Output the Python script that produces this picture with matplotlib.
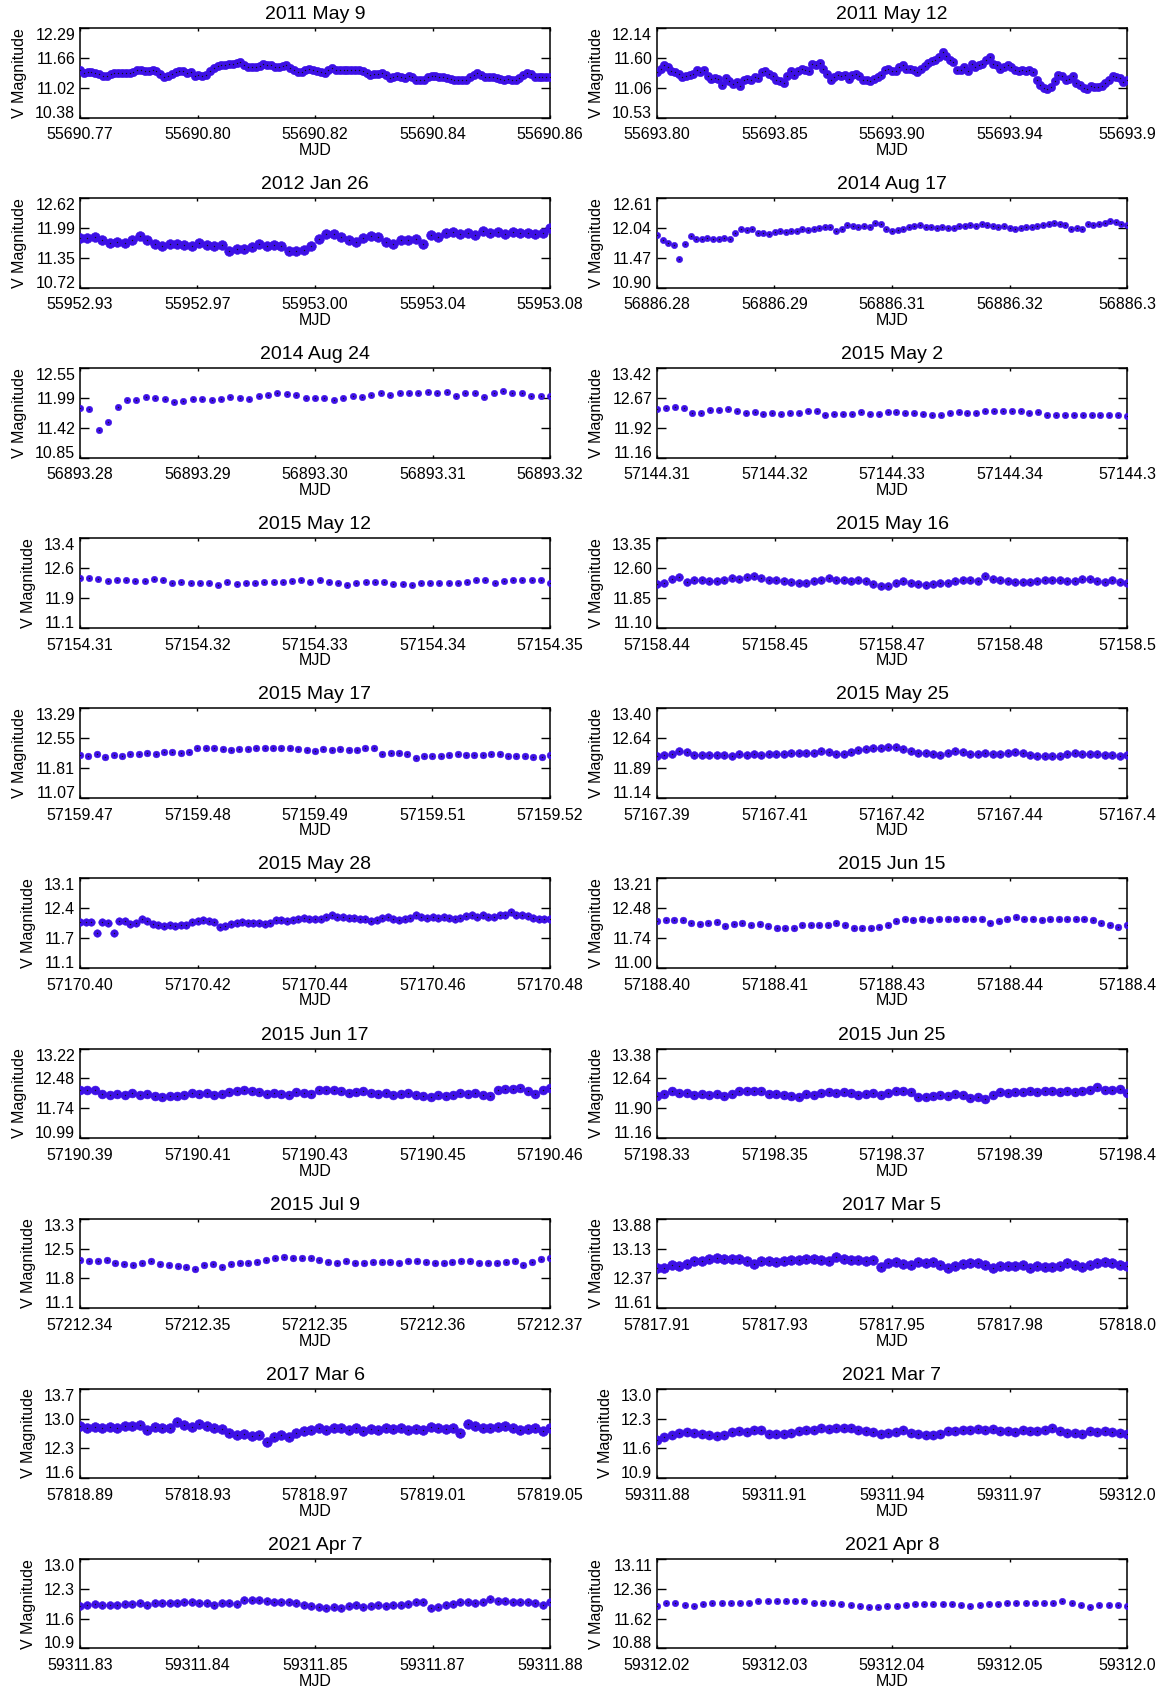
import numpy as np
import matplotlib
matplotlib.use("Agg")
import matplotlib.pyplot as plt

plt.rcParams['font.family'] = ['Liberation Sans', 'DejaVu Sans']

titles = ["2011 May 9", "2011 May 12", "2012 Jan 26", "2014 Aug 17", "2014 Aug 24",
          "2015 May 2", "2015 May 12", "2015 May 16", "2015 May 17", "2015 May 25",
          "2015 May 28", "2015 Jun 15", "2015 Jun 17", "2015 Jun 25", "2015 Jul 9",
          "2017 Mar 5", "2017 Mar 6", "2021 Mar 7", "2021 Apr 7", "2021 Apr 8"]

x_limits = [(55690.7735, 55690.8635), (55693.804, 55693.9888), (55952.929, 55953.079),
            (56886.2815, 56886.3315), (56893.279, 56893.3202), (57144.3095, 57144.3515),
            (57154.3095, 57154.3507), (57158.441, 57158.4952), (57159.468, 57159.518),
            (57167.393, 57167.455), (57170.4005, 57170.4801), (57188.401, 57188.451),
            (57190.393, 57190.463), (57198.332, 57198.408), (57212.3415, 57212.3671),
            (57817.908, 57817.9992), (57818.891, 57819.0502), (59311.8815, 59312.0003),
            (59311.831, 59311.877), (59312.0195, 59312.0603)]

x_tick_labels = [
    ["55690.77", "55690.80", "55690.82", "55690.84", "55690.86"],
    ["55693.80", "55693.85", "55693.90", "55693.94", "55693.9"],
    ["55952.93", "55952.97", "55953.00", "55953.04", "55953.08"],
    ["56886.28", "56886.29", "56886.31", "56886.32", "56886.3"],
    ["56893.28", "56893.29", "56893.30", "56893.31", "56893.32"],
    ["57144.31", "57144.32", "57144.33", "57144.34", "57144.3"],
    ["57154.31", "57154.32", "57154.33", "57154.34", "57154.35"],
    ["57158.44", "57158.45", "57158.47", "57158.48", "57158.5"],
    ["57159.47", "57159.48", "57159.49", "57159.51", "57159.52"],
    ["57167.39", "57167.41", "57167.42", "57167.44", "57167.4"],
    ["57170.40", "57170.42", "57170.44", "57170.46", "57170.48"],
    ["57188.40", "57188.41", "57188.43", "57188.44", "57188.4"],
    ["57190.39", "57190.41", "57190.43", "57190.45", "57190.46"],
    ["57198.33", "57198.35", "57198.37", "57198.39", "57198.4"],
    ["57212.34", "57212.35", "57212.35", "57212.36", "57212.37"],
    ["57817.91", "57817.93", "57817.95", "57817.98", "57818.0"],
    ["57818.89", "57818.93", "57818.97", "57819.01", "57819.05"],
    ["59311.88", "59311.91", "59311.94", "59311.97", "59312.0"],
    ["59311.83", "59311.84", "59311.85", "59311.87", "59311.88"],
    ["59312.02", "59312.03", "59312.04", "59312.05", "59312.0"],
]

y_limits = [(10.38, 12.29), (10.53, 12.14), (10.72, 12.62), (10.90, 12.61), (10.85, 12.55),
            (11.16, 13.42), (11.10, 13.38), (11.10, 13.35), (11.07, 13.29), (11.14, 13.40),
            (11.07, 13.08), (11.00, 13.21), (10.99, 13.22), (11.16, 13.38), (11.08, 13.27),
            (11.61, 13.88), (11.62, 13.72), (10.92, 13.02), (10.92, 13.02), (10.88, 13.11)]

y_tick_labels = [
    ["10.38", "11.02", "11.66", "12.29"],
    ["10.53", "11.06", "11.60", "12.14"],
    ["10.72", "11.35", "11.99", "12.62"],
    ["10.90", "11.47", "12.04", "12.61"],
    ["10.85", "11.42", "11.99", "12.55"],
    ["11.16", "11.92", "12.67", "13.42"],
    ["11.1", "11.9", "12.6", "13.4"],
    ["11.10", "11.85", "12.60", "13.35"],
    ["11.07", "11.81", "12.55", "13.29"],
    ["11.14", "11.89", "12.64", "13.40"],
    ["11.1", "11.7", "12.4", "13.1"],
    ["11.00", "11.74", "12.48", "13.21"],
    ["10.99", "11.74", "12.48", "13.22"],
    ["11.16", "11.90", "12.64", "13.38"],
    ["11.1", "11.8", "12.5", "13.3"],
    ["11.61", "12.37", "13.13", "13.88"],
    ["11.6", "12.3", "13.0", "13.7"],
    ["10.9", "11.6", "12.3", "13.0"],
    ["10.9", "11.6", "12.3", "13.0"],
    ["10.88", "11.62", "12.36", "13.11"],
]

mag_2011_may09 = [11.40, 11.33, 11.35, 11.35, 11.33, 11.30, 11.27, 11.27, 11.30, 11.32,
                  11.34, 11.32, 11.32, 11.32, 11.35, 11.39, 11.39, 11.38, 11.37, 11.40,
                  11.37, 11.30, 11.25, 11.26, 11.30, 11.35, 11.37, 11.37, 11.33, 11.36,
                  11.27, 11.29, 11.26, 11.29, 11.37, 11.43, 11.47, 11.51, 11.50, 11.52,
                  11.53, 11.55, 11.56, 11.51, 11.45, 11.46, 11.46, 11.48, 11.52, 11.51,
                  11.50, 11.45, 11.45, 11.48, 11.50, 11.44, 11.40, 11.36, 11.36, 11.40,
                  11.41, 11.40, 11.37, 11.36, 11.34, 11.40, 11.43, 11.40, 11.40, 11.40,
                  11.40, 11.40, 11.40, 11.40, 11.38, 11.32, 11.29, 11.31, 11.31, 11.32,
                  11.29, 11.22, 11.25, 11.26, 11.25, 11.22, 11.26, 11.24, 11.19, 11.19,
                  11.18, 11.24, 11.26, 11.26, 11.25, 11.25, 11.22, 11.20, 11.18, 11.18,
                  11.18, 11.18, 11.24, 11.29, 11.32, 11.29, 11.25, 11.24, 11.24, 11.22,
                  11.21, 11.19, 11.20, 11.19, 11.18, 11.22, 11.29, 11.33, 11.31, 11.25,
                  11.24, 11.24, 11.24, 11.25]

mag_2011_may12 = [11.34, 11.41, 11.48, 11.44, 11.37, 11.34, 11.31, 11.26, 11.27, 11.29,
                  11.31, 11.38, 11.34, 11.38, 11.27, 11.22, 11.24, 11.22, 11.12, 11.24,
                  11.18, 11.14, 11.16, 11.10, 11.20, 11.22, 11.20, 11.26, 11.24, 11.34,
                  11.36, 11.32, 11.27, 11.20, 11.18, 11.15, 11.27, 11.37, 11.29, 11.36,
                  11.41, 11.38, 11.36, 11.49, 11.47, 11.51, 11.41, 11.31, 11.20, 11.26,
                  11.29, 11.27, 11.29, 11.22, 11.29, 11.31, 11.27, 11.20, 11.20, 11.18,
                  11.22, 11.26, 11.29, 11.38, 11.41, 11.37, 11.36, 11.44, 11.47, 11.41,
                  11.41, 11.38, 11.34, 11.41, 11.45, 11.51, 11.54, 11.57, 11.62, 11.71,
                  11.63, 11.56, 11.53, 11.38, 11.38, 11.43, 11.36, 11.50, 11.44, 11.47,
                  11.49, 11.57, 11.62, 11.50, 11.47, 11.41, 11.44, 11.47, 11.44, 11.38,
                  11.36, 11.38, 11.36, 11.38, 11.34, 11.20, 11.12, 11.06, 11.04, 11.08,
                  11.18, 11.29, 11.27, 11.20, 11.22, 11.27, 11.15, 11.12, 11.06, 11.04,
                  11.09, 11.08, 11.08, 11.09, 11.15, 11.20, 11.27, 11.26, 11.24, 11.16,
                  11.20]

mag_2012_jan26 = [11.77, 11.77, 11.79, 11.72, 11.66, 11.68, 11.66, 11.72, 11.81, 11.72,
                  11.65, 11.60, 11.64, 11.65, 11.62, 11.60, 11.66, 11.62, 11.60, 11.62,
                  11.50, 11.54, 11.55, 11.58, 11.64, 11.60, 11.62, 11.60, 11.50, 11.50,
                  11.52, 11.60, 11.75, 11.85, 11.85, 11.79, 11.72, 11.69, 11.77, 11.82,
                  11.79, 11.68, 11.64, 11.73, 11.72, 11.75, 11.64, 11.83, 11.79, 11.87,
                  11.91, 11.85, 11.87, 11.83, 11.92, 11.88, 11.91, 11.85, 11.91, 11.87,
                  11.88, 11.85, 11.88, 11.98]

mag_2014_aug17 = [11.90, 11.80, 11.75, 11.71, 11.45, 11.73, 11.88, 11.83, 11.83, 11.84,
                  11.83, 11.82, 11.84, 11.83, 11.95, 12.02, 12.00, 12.02, 11.95, 11.95,
                  11.93, 11.97, 11.98, 11.97, 11.99, 11.98, 12.02, 12.00, 12.02, 12.04,
                  12.05, 12.06, 11.99, 12.02, 12.09, 12.07, 12.05, 12.07, 12.05, 12.14,
                  12.11, 12.02, 11.98, 12.00, 12.02, 12.06, 12.07, 12.09, 12.06, 12.05,
                  12.04, 12.05, 12.04, 12.04, 12.07, 12.07, 12.09, 12.07, 12.11, 12.09,
                  12.07, 12.05, 12.07, 12.04, 12.02, 12.04, 12.05, 12.06, 12.07, 12.09,
                  12.11, 12.14, 12.12, 12.09, 12.02, 12.04, 12.02, 12.11, 12.09, 12.11,
                  12.14, 12.18, 12.16, 12.12, 12.09]

mag_2014_aug24 = [11.80, 11.78, 11.38, 11.52, 11.81, 11.95, 11.95, 12.00, 11.99, 11.96,
                  11.90, 11.93, 11.97, 11.97, 11.95, 11.97, 12.00, 11.99, 11.97, 12.02,
                  12.05, 12.07, 12.06, 12.04, 11.99, 11.99, 11.99, 11.95, 11.98, 12.03,
                  12.00, 12.04, 12.08, 12.04, 12.08, 12.08, 12.08, 12.10, 12.08, 12.10,
                  12.02, 12.07, 12.07, 12.00, 12.07, 12.12, 12.07, 12.08, 12.03, 12.03,
                  12.03]

mag_2015_may02 = [12.39, 12.42, 12.44, 12.41, 12.30, 12.30, 12.36, 12.36, 12.39, 12.34,
                  12.30, 12.32, 12.27, 12.30, 12.27, 12.30, 12.30, 12.34, 12.34, 12.25,
                  12.27, 12.27, 12.27, 12.32, 12.27, 12.27, 12.32, 12.32, 12.30, 12.30,
                  12.27, 12.25, 12.25, 12.30, 12.32, 12.30, 12.30, 12.33, 12.34, 12.34,
                  12.33, 12.34, 12.30, 12.32, 12.25, 12.25, 12.25, 12.25, 12.23, 12.23,
                  12.23, 12.23, 12.23, 12.21]

mag_2015_may12 = [12.37, 12.37, 12.35, 12.28, 12.31, 12.32, 12.28, 12.28, 12.35, 12.31,
                  12.24, 12.26, 12.23, 12.23, 12.23, 12.19, 12.26, 12.21, 12.24, 12.23,
                  12.26, 12.26, 12.26, 12.28, 12.31, 12.26, 12.32, 12.26, 12.23, 12.19,
                  12.23, 12.26, 12.26, 12.26, 12.21, 12.21, 12.19, 12.24, 12.24, 12.24,
                  12.23, 12.23, 12.26, 12.31, 12.32, 12.24, 12.28, 12.31, 12.31, 12.31,
                  12.32, 12.24]

mag_2015_may16 = [12.21, 12.23, 12.32, 12.37, 12.25, 12.30, 12.30, 12.28, 12.28, 12.30,
                  12.34, 12.32, 12.37, 12.40, 12.34, 12.31, 12.31, 12.28, 12.26, 12.23,
                  12.23, 12.28, 12.30, 12.34, 12.31, 12.31, 12.28, 12.30, 12.28, 12.19,
                  12.16, 12.14, 12.23, 12.28, 12.23, 12.19, 12.17, 12.19, 12.23, 12.23,
                  12.28, 12.30, 12.30, 12.28, 12.39, 12.32, 12.31, 12.28, 12.25, 12.25,
                  12.25, 12.28, 12.30, 12.30, 12.31, 12.28, 12.28, 12.32, 12.32, 12.28,
                  12.25, 12.30, 12.25, 12.23]

mag_2015_may17 = [12.13, 12.10, 12.16, 12.08, 12.14, 12.12, 12.16, 12.17, 12.19, 12.17,
                  12.21, 12.21, 12.19, 12.21, 12.31, 12.31, 12.30, 12.28, 12.26, 12.28,
                  12.28, 12.31, 12.30, 12.32, 12.32, 12.31, 12.28, 12.26, 12.23, 12.28,
                  12.26, 12.28, 12.26, 12.26, 12.32, 12.30, 12.16, 12.19, 12.19, 12.16,
                  12.07, 12.10, 12.12, 12.12, 12.14, 12.16, 12.14, 12.14, 12.14, 12.17,
                  12.17, 12.12, 12.10, 12.10, 12.08, 12.08, 12.14]

mag_2015_may25 = [12.19, 12.23, 12.26, 12.32, 12.30, 12.23, 12.23, 12.23, 12.23, 12.23,
                  12.21, 12.26, 12.23, 12.26, 12.23, 12.26, 12.26, 12.25, 12.28, 12.28,
                  12.28, 12.28, 12.32, 12.30, 12.26, 12.26, 12.30, 12.35, 12.37, 12.39,
                  12.39, 12.42, 12.42, 12.37, 12.32, 12.28, 12.28, 12.26, 12.23, 12.28,
                  12.32, 12.30, 12.25, 12.26, 12.28, 12.26, 12.26, 12.28, 12.30, 12.28,
                  12.23, 12.21, 12.19, 12.21, 12.21, 12.25, 12.28, 12.26, 12.26, 12.26,
                  12.23, 12.23, 12.21, 12.23]

mag_2015_may28 = [12.10, 12.10, 12.10, 11.86, 12.10, 12.08, 11.86, 12.12, 12.12, 12.06,
                  12.08, 12.16, 12.12, 12.06, 12.04, 12.02, 12.04, 12.02, 12.04, 12.04,
                  12.10, 12.12, 12.14, 12.12, 12.10, 12.00, 12.02, 12.06, 12.08, 12.10,
                  12.08, 12.08, 12.08, 12.06, 12.08, 12.14, 12.15, 12.12, 12.14, 12.16,
                  12.20, 12.18, 12.16, 12.18, 12.22, 12.25, 12.22, 12.22, 12.20, 12.20,
                  12.18, 12.16, 12.12, 12.14, 12.19, 12.22, 12.18, 12.15, 12.18, 12.20,
                  12.25, 12.22, 12.20, 12.22, 12.20, 12.22, 12.20, 12.18, 12.20, 12.23,
                  12.25, 12.22, 12.25, 12.22, 12.22, 12.25, 12.26, 12.33, 12.26, 12.25,
                  12.23, 12.20, 12.16, 12.18, 12.18]

mag_2015_jun15 = [12.16, 12.18, 12.19, 12.18, 12.10, 12.09, 12.12, 12.13, 12.04, 12.09,
                  12.12, 12.07, 12.09, 12.04, 11.99, 12.00, 12.00, 12.05, 12.07, 12.07,
                  12.07, 12.10, 12.05, 11.99, 11.99, 12.00, 12.02, 12.07, 12.16, 12.20,
                  12.18, 12.20, 12.18, 12.20, 12.22, 12.22, 12.22, 12.20, 12.20, 12.12,
                  12.16, 12.20, 12.25, 12.22, 12.22, 12.19, 12.20, 12.22, 12.20, 12.20,
                  12.22, 12.19, 12.10, 12.07, 12.02, 12.07]

mag_2015_jun17 = [12.20, 12.20, 12.18, 12.09, 12.07, 12.09, 12.07, 12.11, 12.07, 12.10,
                  12.04, 12.02, 12.04, 12.04, 12.07, 12.11, 12.09, 12.11, 12.07, 12.09,
                  12.13, 12.16, 12.19, 12.16, 12.13, 12.10, 12.11, 12.09, 12.07, 12.13,
                  12.11, 12.09, 12.18, 12.20, 12.20, 12.16, 12.11, 12.13, 12.16, 12.11,
                  12.10, 12.11, 12.07, 12.10, 12.11, 12.07, 12.04, 12.02, 12.07, 12.04,
                  12.07, 12.11, 12.10, 12.11, 12.07, 12.05, 12.19, 12.22, 12.22, 12.23,
                  12.16, 12.09, 12.19, 12.25]

mag_2015_jun25 = [12.21, 12.26, 12.34, 12.28, 12.28, 12.23, 12.26, 12.23, 12.25, 12.21,
                  12.25, 12.32, 12.34, 12.32, 12.32, 12.25, 12.26, 12.23, 12.21, 12.19,
                  12.25, 12.23, 12.28, 12.30, 12.28, 12.30, 12.28, 12.23, 12.25, 12.28,
                  12.23, 12.28, 12.32, 12.32, 12.30, 12.19, 12.17, 12.21, 12.23, 12.21,
                  12.26, 12.23, 12.16, 12.19, 12.14, 12.23, 12.30, 12.28, 12.30, 12.30,
                  12.34, 12.30, 12.34, 12.32, 12.30, 12.32, 12.30, 12.32, 12.35, 12.43,
                  12.35, 12.35, 12.37, 12.28]

mag_2015_jul09 = [12.25, 12.24, 12.23, 12.25, 12.18, 12.17, 12.14, 12.18, 12.23, 12.17,
                  12.14, 12.12, 12.08, 12.03, 12.14, 12.17, 12.10, 12.17, 12.18, 12.18,
                  12.20, 12.27, 12.30, 12.33, 12.30, 12.30, 12.30, 12.25, 12.20, 12.18,
                  12.23, 12.18, 12.18, 12.20, 12.20, 12.20, 12.18, 12.23, 12.24, 12.20,
                  12.18, 12.18, 12.20, 12.23, 12.24, 12.18, 12.18, 12.18, 12.20, 12.23,
                  12.14, 12.21, 12.29, 12.32]

mag_2017_mar05 = [12.62, 12.64, 12.71, 12.69, 12.74, 12.80, 12.80, 12.85, 12.89, 12.85,
                  12.87, 12.85, 12.80, 12.73, 12.80, 12.80, 12.77, 12.80, 12.83, 12.82,
                  12.85, 12.85, 12.83, 12.80, 12.91, 12.85, 12.83, 12.82, 12.80, 12.83,
                  12.66, 12.75, 12.77, 12.73, 12.71, 12.77, 12.75, 12.77, 12.71, 12.64,
                  12.69, 12.73, 12.75, 12.75, 12.71, 12.64, 12.68, 12.68, 12.68, 12.71,
                  12.62, 12.68, 12.66, 12.66, 12.68, 12.75, 12.71, 12.66, 12.71, 12.75,
                  12.77, 12.75, 12.71, 12.68]

mag_2017_mar06 = [12.85, 12.81, 12.82, 12.81, 12.83, 12.79, 12.85, 12.85, 12.86, 12.76,
                  12.82, 12.79, 12.81, 12.93, 12.87, 12.83, 12.89, 12.85, 12.81, 12.78,
                  12.68, 12.64, 12.65, 12.61, 12.64, 12.48, 12.59, 12.64, 12.59, 12.68,
                  12.72, 12.76, 12.81, 12.76, 12.81, 12.79, 12.76, 12.81, 12.72, 12.78,
                  12.76, 12.79, 12.78, 12.81, 12.76, 12.78, 12.76, 12.82, 12.81, 12.78,
                  12.81, 12.68, 12.89, 12.85, 12.81, 12.81, 12.82, 12.85, 12.81, 12.76,
                  12.78, 12.81, 12.74, 12.81]

mag_2021_mar07 = [11.83, 11.89, 11.94, 11.98, 12.00, 11.98, 11.95, 11.94, 11.92, 11.94,
                  12.00, 12.02, 12.00, 12.05, 12.06, 11.95, 11.95, 11.96, 11.98, 12.02,
                  12.06, 12.06, 12.11, 12.08, 12.11, 12.11, 12.09, 12.06, 12.02, 12.00,
                  11.95, 11.98, 12.00, 12.05, 11.98, 11.95, 11.94, 11.94, 11.95, 12.02,
                  12.02, 12.05, 12.06, 12.08, 12.06, 12.08, 12.04, 12.02, 12.00, 12.06,
                  12.02, 12.02, 12.05, 12.11, 12.02, 11.98, 11.98, 11.96, 12.02, 12.00,
                  12.02, 12.00, 11.98, 11.95]

mag_2021_apr07 = [11.92, 11.94, 11.96, 11.95, 11.94, 11.95, 11.96, 11.96, 11.98, 11.95,
                  11.98, 11.98, 11.98, 11.98, 12.00, 12.02, 11.98, 11.98, 11.95, 11.98,
                  11.98, 11.96, 12.06, 12.06, 12.05, 12.04, 12.02, 12.02, 12.00, 11.98,
                  11.95, 11.91, 11.89, 11.87, 11.88, 11.87, 11.91, 11.94, 11.89, 11.92,
                  11.94, 11.92, 11.94, 11.95, 11.96, 12.00, 12.00, 11.87, 11.89, 11.94,
                  11.96, 12.00, 12.00, 11.98, 12.02, 12.08, 12.04, 12.04, 12.02, 12.02,
                  12.00, 11.98, 11.95, 12.00]

mag_2021_apr08 = [11.94, 12.00, 12.00, 11.96, 11.93, 11.99, 12.00, 12.02, 12.02, 12.00,
                  12.02, 12.05, 12.05, 12.07, 12.07, 12.07, 12.05, 12.02, 12.00, 12.00,
                  11.98, 11.96, 11.93, 11.91, 11.91, 11.93, 11.93, 11.96, 11.98, 11.99,
                  11.99, 11.99, 11.99, 11.96, 11.93, 11.96, 11.99, 11.99, 12.02, 12.00,
                  12.00, 12.00, 12.00, 12.00, 12.05, 12.00, 11.96, 11.91, 11.96, 11.96,
                  11.96, 11.94]

series = [mag_2011_may09, mag_2011_may12, mag_2012_jan26, mag_2014_aug17, mag_2014_aug24,
          mag_2015_may02, mag_2015_may12, mag_2015_may16, mag_2015_may17, mag_2015_may25,
          mag_2015_may28, mag_2015_jun15, mag_2015_jun17, mag_2015_jun25, mag_2015_jul09,
          mag_2017_mar05, mag_2017_mar06, mag_2021_mar07, mag_2021_apr07, mag_2021_apr08]

# marker size per panel (style only): dense light curves merge into a band
marker_sizes = [6.0, 6.0, 7.0, 4.5, 4.6,
                4.6, 4.6, 5.6, 4.8, 5.6,
                5.4, 4.8, 6.4, 6.4, 4.8,
                7.0, 7.0, 6.6, 5.6, 4.6]

POINT_COLOR = '#3d10e6'
W, H = 1162, 1691
fig = plt.figure(figsize=(W / 100, H / 100), dpi=100)

for k in range(len(titles)):
    row, col = divmod(k, 2)
    left_px = 80 if col == 0 else 657
    top_px = 28.0 + row * 170.1
    h_px = 89.5
    ax = fig.add_axes([left_px / W, 1 - (top_px + h_px) / H, 470 / W, h_px / H])
    x0, x1 = x_limits[k]
    y0, y1 = y_limits[k]
    mags = series[k]
    times = np.linspace(x0, x1, len(mags))
    ms = marker_sizes[k]
    ax.plot(times, mags, linestyle='none', marker='o', ms=ms,
            color=POINT_COLOR, mec=POINT_COLOR, mew=0.4, zorder=3)
    ax.plot(times, mags, linestyle='none', marker='o', ms=1.0,
            color='#101010', mec='#101010', mew=0, zorder=4)
    ax.set_xlim(x0, x1)
    ax.set_ylim(y0, y1)
    ax.set_xticks(np.linspace(x0, x1, 5))
    ax.set_xticklabels(x_tick_labels[k])
    ax.set_yticks(np.linspace(y0, y1, 4))
    ylabs = ax.set_yticklabels(y_tick_labels[k])
    ylabs[0].set_verticalalignment('baseline')
    ylabs[-1].set_verticalalignment('top')
    ax.tick_params(axis='both', direction='in', top=True, right=True,
                   labelsize=11.5, width=1.0, colors='black')
    ax.tick_params(axis='x', length=2.5, pad=7.0)
    ax.tick_params(axis='y', length=6.5, pad=3.5)
    for sp in ax.spines.values():
        sp.set_linewidth(1.1)
    ax.set_title(titles[k], fontsize=14, pad=6.5)
    ax.set_xlabel('MJD', fontsize=11.5, labelpad=0.5)
    ax.set_ylabel('V Magnitude', fontsize=11.5, labelpad=6)

fig.savefig('out.png', dpi=100)
